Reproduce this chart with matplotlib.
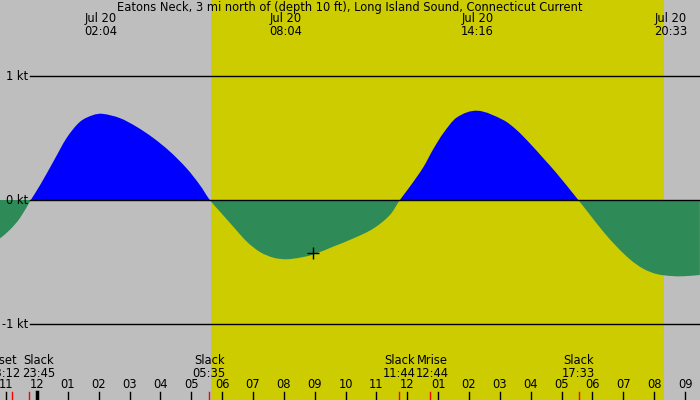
import numpy as np
import matplotlib
matplotlib.use("Agg")
import matplotlib.pyplot as plt
from matplotlib.path import Path
from matplotlib.patches import PathPatch

# current speed (kt) vs hours since midnight Jul 20
hours = [-1.20, -0.875, -0.55, -0.20,
         0.10, 0.53, 0.96, 1.39, 1.82, 2.12, 2.69, 3.23, 3.77, 4.31, 4.85, 5.28, 5.60,
         5.93, 6.36, 6.80, 7.23, 7.66, 8.07, 8.52, 8.95, 9.60, 10.25, 10.90, 11.44, 11.76,
         12.09, 12.52, 12.84, 13.17, 13.60, 14.27, 15.11, 15.54, 15.97, 16.41, 16.84, 17.54,
         17.92, 18.35, 18.78, 19.22, 19.65, 20.08, 20.55, 20.94, 21.48]
speed = [-0.31, -0.24, -0.145, 0.0,
         0.12, 0.31, 0.50, 0.63, 0.685, 0.695, 0.66, 0.59, 0.50, 0.39, 0.255, 0.12, 0.0,
         -0.094, -0.215, -0.336, -0.42, -0.465, -0.478, -0.465, -0.44, -0.376, -0.31, -0.23, -0.12, 0.0,
         0.11, 0.265, 0.41, 0.54, 0.665, 0.72, 0.645, 0.565, 0.457, 0.336, 0.215, 0.0,
         -0.12, -0.255, -0.375, -0.48, -0.555, -0.597, -0.613, -0.615, -0.605]

# max current labels along the top
peak_hours = [2.067, 8.067, 14.267, 20.55]
peak_labels = ["Jul 20\n02:04", "Jul 20\n08:04", "Jul 20\n14:16", "Jul 20\n20:33"]

# events along the bottom
event_hours = [-0.80, -0.25, 5.583, 11.733, 12.733, 17.55]
event_labels = ["Mset\n23:12", "Slack\n23:45", "Slack\n05:35", "Slack\n11:44", "Mrise\n12:44", "Slack\n17:33"]
event_nudge = [-0.28, 0.30, 0.0, 0.0, 0.08, 0.0]

sunrise, sunset = 5.65, 20.32
hour_ticks = list(range(-1, 22))

px_per_hr = 30.86
x0 = -37 / px_per_hr
x1 = (700 - 37) / px_per_hr
ylim = 200 / 124

fig = plt.figure(figsize=(7, 4), dpi=100)
ax = fig.add_axes([0, 0, 1, 1])
ax.set_xlim(x0, x1)
ax.set_ylim(-ylim, ylim)
ax.axis("off")
fig.patch.set_facecolor("#bebebe")
ax.set_facecolor("#bebebe")

ax.axvspan(sunrise, sunset, color="#cccc00", lw=0, zorder=1)

# smooth curve: cubic Hermite segments drawn as Bezier paths, one patch per lobe
t = np.array(hours)
v = np.array(speed)
n = len(t)
slope = np.empty(n)
slope[0] = (v[1] - v[0]) / (t[1] - t[0])
slope[-1] = (v[-1] - v[-2]) / (t[-1] - t[-2])
slope[1:-1] = (v[2:] - v[:-2]) / (t[2:] - t[:-2])

zero_idx = [0] + [i for i in range(1, n - 1) if v[i] == 0] + [n - 1]
for a, b in zip(zero_idx[:-1], zero_idx[1:]):
    verts = [(t[a], 0), (t[a], v[a])]
    codes = [Path.MOVETO, Path.LINETO]
    for i in range(a, b):
        dx = t[i + 1] - t[i]
        verts += [(t[i] + dx / 3, v[i] + slope[i] * dx / 3),
                  (t[i + 1] - dx / 3, v[i + 1] - slope[i + 1] * dx / 3),
                  (t[i + 1], v[i + 1])]
        codes += [Path.CURVE4] * 3
    verts += [(t[b], 0), (t[a], 0)]
    codes += [Path.LINETO, Path.CLOSEPOLY]
    col = "#0000ff" if v[a:b + 1].sum() > 0 else "#2e8b57"
    ax.add_patch(PathPatch(Path(verts, codes), facecolor=col, edgecolor="none", zorder=3))

fs = 8.3

# kt grid lines
line_start = x0 + 30 / px_per_hr
for lev in [1, 0, -1]:
    ax.plot([line_start, x1], [lev, lev], color="black", lw=1, zorder=4)
    ax.text(x0 + 28 / px_per_hr, lev, f"{lev} kt", ha="right", va="center", fontsize=fs, zorder=5)

ax.text((x0 + x1) / 2, ylim - 7 / 124,
        "Eatons Neck, 3 mi north of (depth 10 ft), Long Island Sound, Connecticut Current",
        ha="center", va="center", fontsize=fs, zorder=5)
for h, lab in zip(peak_hours, peak_labels):
    ax.text(h, ylim - 25 / 124, lab, ha="center", va="center", fontsize=fs, linespacing=1.0, zorder=5)

for h, lab, nd in zip(event_hours, event_labels, event_nudge):
    ax.text(h + nd, -ylim + 33 / 124, lab, ha="center", va="center", fontsize=fs, linespacing=1.0, zorder=5)
    ax.plot([h, h], [-ylim, -ylim + 8 / 124], color="red", lw=1, zorder=5)

for h in hour_ticks:
    lab = "%02d" % ((h - 1) % 12 + 1)
    ax.text(h, -ylim + 15 / 124, lab, ha="center", va="center", fontsize=fs, zorder=5)
    ax.plot([h, h], [-ylim, -ylim + 8 / 124], color="black", lw=2.5 if h == 0 else 1, zorder=5)

# current time marker
ax.plot([8.94], [-0.43], marker="+", color="black", ms=8, mew=1, zorder=6)

fig.savefig("out.png", dpi=100, facecolor=fig.get_facecolor())
